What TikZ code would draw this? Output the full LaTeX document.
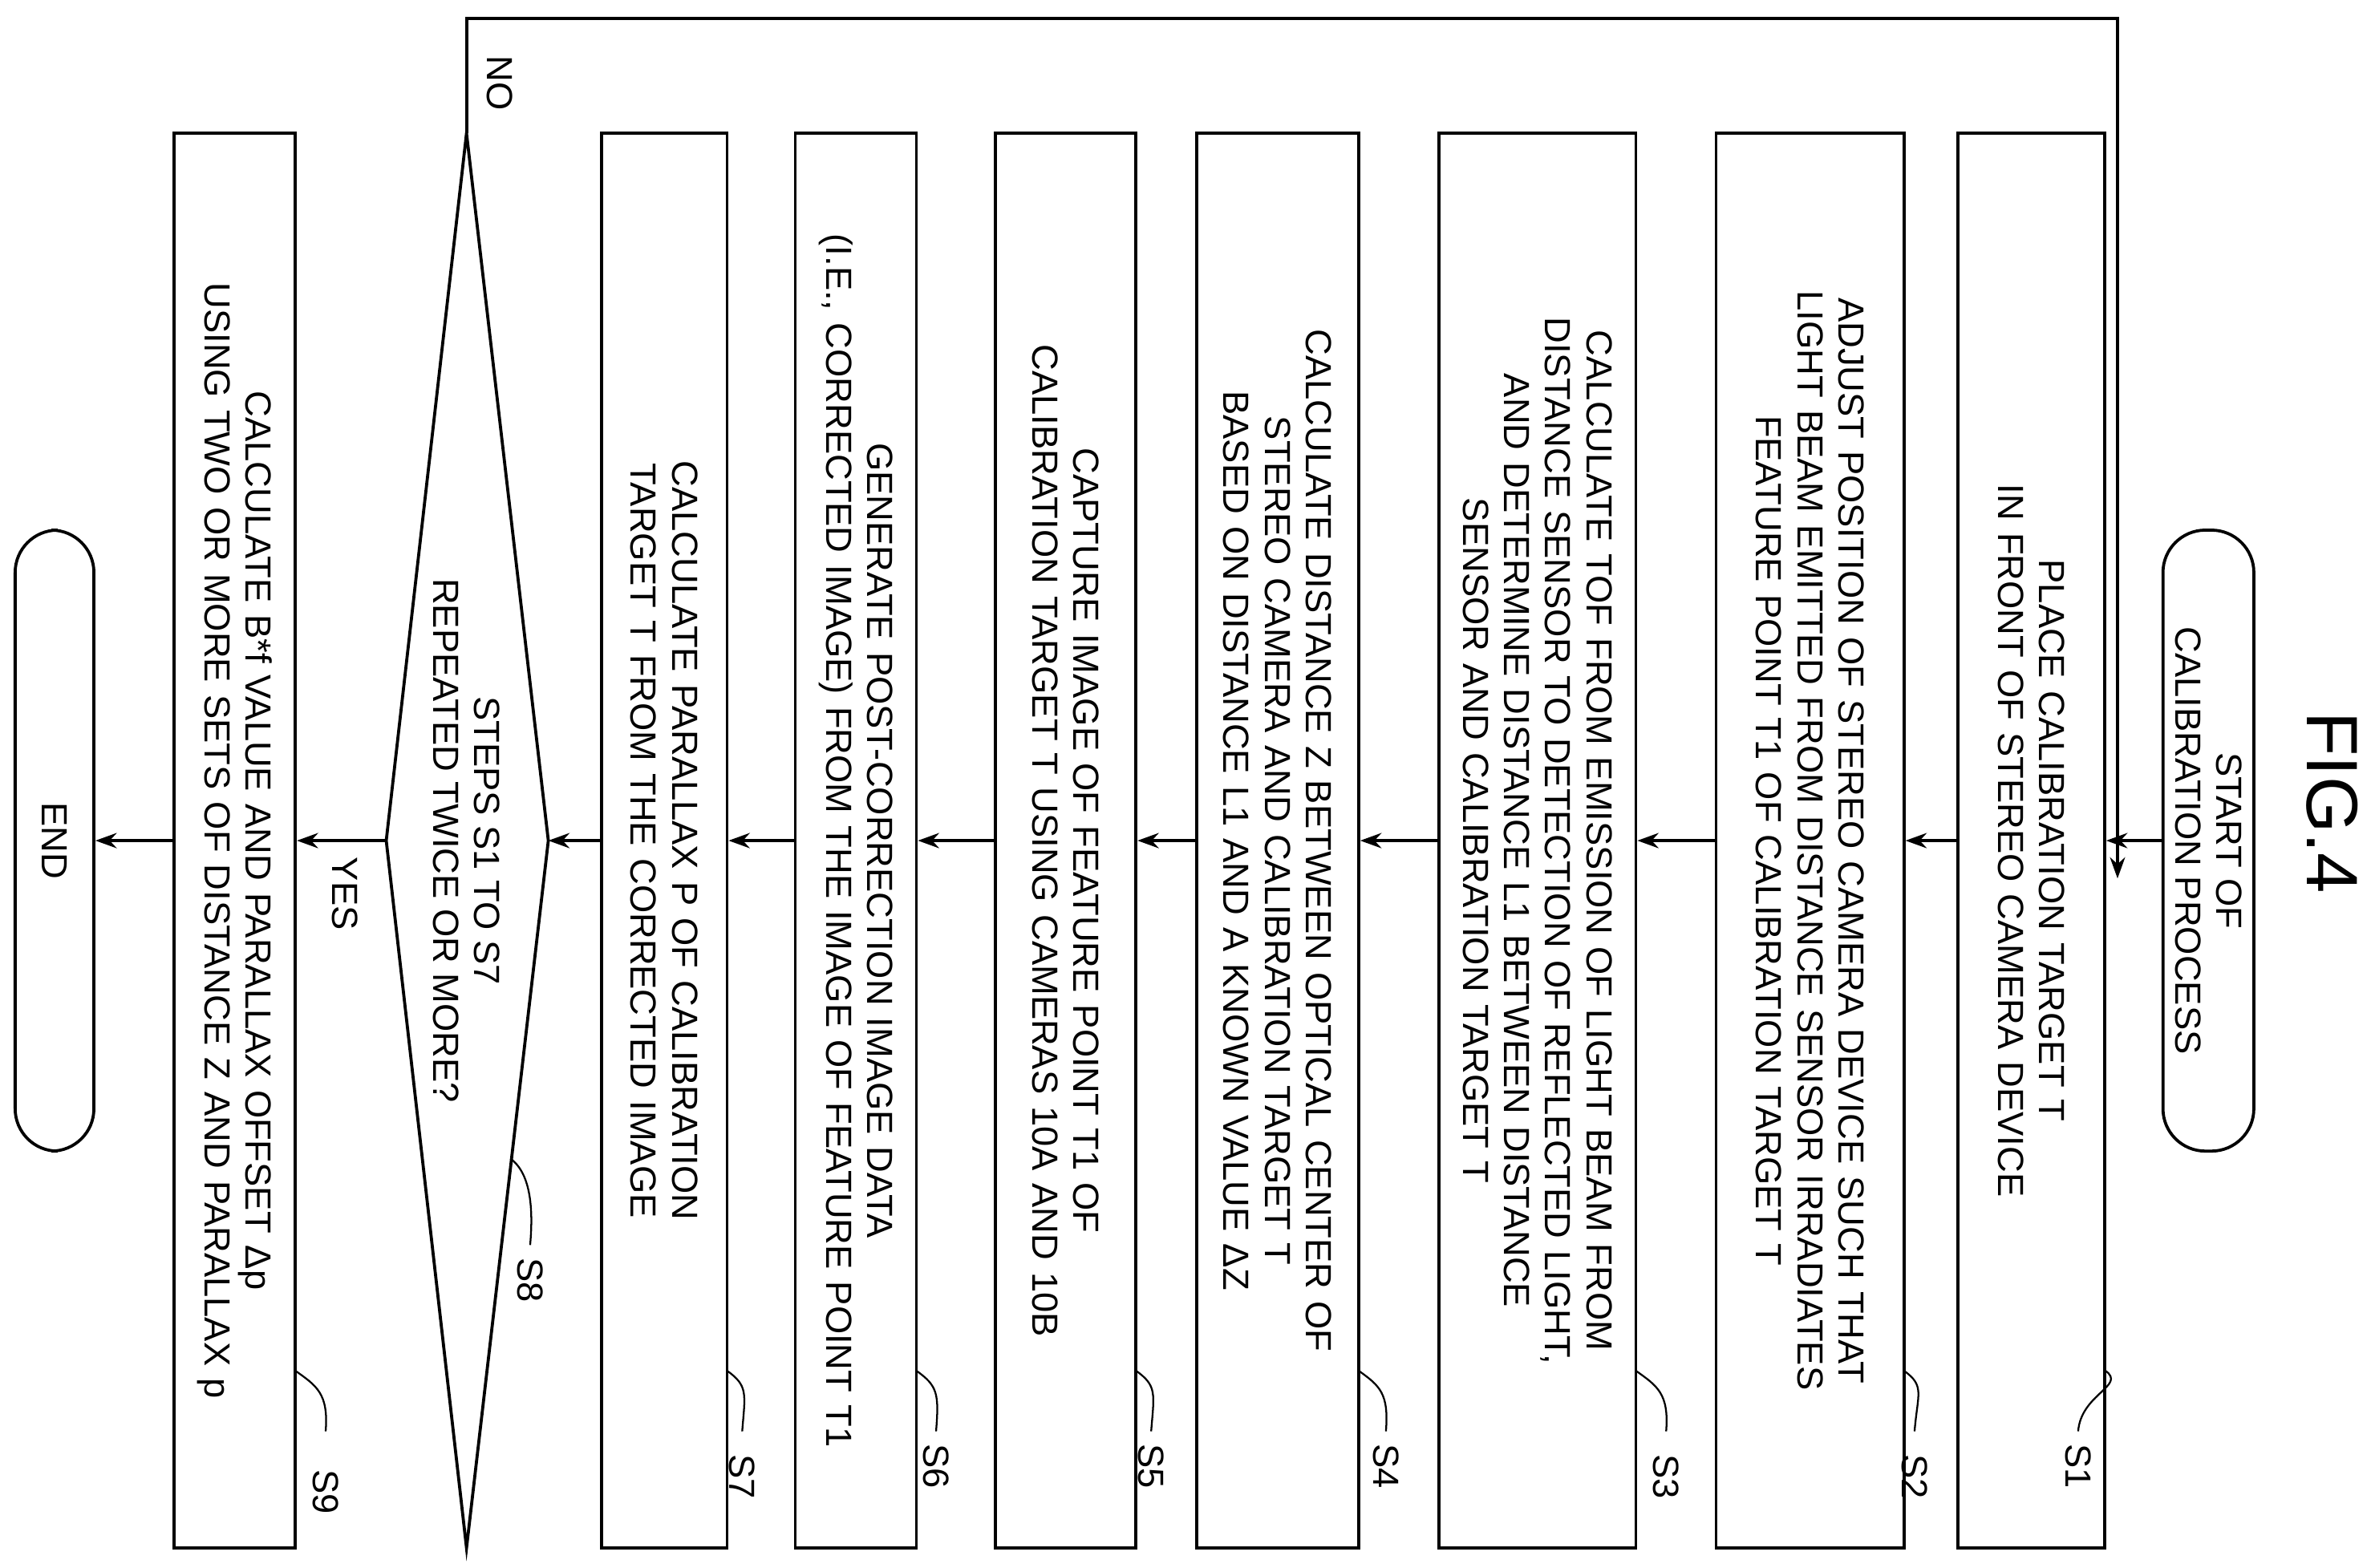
\documentclass[tikz,border=0pt]{standalone}
\usepackage{fontspec}
\setmainfont{Liberation Sans}
\usetikzlibrary{arrows.meta}
\begin{document}
\begin{tikzpicture}
[x=0.5pt, y=-0.5pt,
 every node/.style={inner sep=0pt},
 txt/.style={font=\fontsize{12}{13.6}\selectfont},
 proc/.style={txt, draw=black, line width=1pt, rotate=-90, minimum width=467pt, align=center, text width=460pt},
 term/.style={txt, draw=black, line width=1pt, rotate=-90, rounded corners=14pt, align=center, minimum width=205pt},
 lab/.style={txt, rotate=-90},
 flow/.style={line width=1pt, -{Stealth[length=7pt, width=5pt]}},
 lead/.style={line width=0.6pt}]
\useasboundingbox (0,0) rectangle (1568,1035);
\node (fig) [rotate=-90, font=\fontsize{24}{26}\selectfont] at (1540, 530) {FIG.4};
\node (start) [term, minimum height=30pt] at (1458, 555) {START OF\\CALIBRATION PROCESS};
\node (s1) [proc, minimum height=48.5pt] at (1341, 555) {PLACE CALIBRATION TARGET T\\IN FRONT OF STEREO CAMERA DEVICE};
\node (s2) [proc, minimum height=62pt] at (1195, 555) {ADJUST POSITION OF STEREO CAMERA DEVICE SUCH THAT\\LIGHT BEAM EMITTED FROM DISTANCE SENSOR IRRADIATES\\FEATURE POINT T1 OF CALIBRATION TARGET T};
\node (s3) [proc, minimum height=65pt] at (1015, 555) {CALCULATE TOF FROM EMISSION OF LIGHT BEAM FROM\\DISTANCE SENSOR TO DETECTION OF REFLECTED LIGHT,\\AND DETERMINE DISTANCE L1 BETWEEN DISTANCE\\SENSOR AND CALIBRATION TARGET T};
\node (s4) [proc, minimum height=53.5pt] at (843.5, 555) {CALCULATE DISTANCE Z BETWEEN OPTICAL CENTER OF\\STEREO CAMERA AND CALIBRATION TARGET T\\BASED ON DISTANCE L1 AND A KNOWN VALUE  ΔZ};
\node (s5) [proc, minimum height=46.5pt] at (703.5, 555) {CAPTURE IMAGE OF FEATURE POINT T1 OF\\CALIBRATION TARGET T USING CAMERAS 10A AND 10B};
\node (s6) [proc, minimum height=40pt] at (565, 555) {GENERATE POST-CORRECTION IMAGE DATA\\(I.E., CORRECTED IMAGE) FROM THE IMAGE OF FEATURE POINT T1};
\node (s7) [proc, minimum height=41.5pt] at (438.5, 555) {CALCULATE PARALLAX P OF CALIBRATION\\TARGET T FROM THE CORRECTED IMAGE};
% decision S8
\coordinate (s8t) at (308, 88);
\coordinate (s8b) at (308, 1022);
\coordinate (s8l) at (255, 555);
\coordinate (s8r) at (362, 555);
\draw [line width=1pt] (s8t) -- (s8r) -- (s8b) -- (s8l) -- cycle;
\node (s8) [lab, align=center] at (308, 555) {STEPS S1 TO S7\\REPEATED TWICE OR MORE?};
\node (s9) [proc, minimum height=40pt] at (155, 555) {CALCULATE B*f VALUE AND PARALLAX OFFSET  Δp\\USING TWO OR MORE SETS OF DISTANCE Z AND PARALLAX p};
\node (end) [term, minimum height=26pt] at (36, 555) {END};
\draw [flow] (start) -- (s1);
\draw [flow] (s1) -- (s2);
\draw [flow] (s2) -- (s3);
\draw [flow] (s3) -- (s4);
\draw [flow] (s4) -- (s5);
\draw [flow] (s5) -- (s6);
\draw [flow] (s6) -- (s7);
\draw [flow] (s7) -- (s8r);
\draw [flow] (s8l) -- (s9);
\draw [flow] (s9) -- (end);
\coordinate (loop) at (1398, 580);
\draw [flow] (s8t) -- (308, 12) -- (1398, 12) -- (loop);
\node (no) [lab] at (330, 55) {NO};
\node (yes) [lab] at (228, 590) {YES};
% step labels
\foreach \n/\ex/\lx/\ly in {1/1390/1372/968, 2/1257/1264/975, 3/1080/1100/975, 4/897/915/968, 5/750/760/968, 6/605/618/968, 7/480/490/975, 9/195/215/985} {
  \node (l\n) [lab] at (\lx, \ly) {S\n};
  \draw [lead] (\ex, 905) .. controls (\ex+14, 915) and (\lx+2, 920) .. (\lx, 945);
}
\node (l8) [lab] at (350, 845) {S8};
\draw [lead] (337, 765) .. controls (351, 775) and (352, 800) .. (350, 822);
\end{tikzpicture}
\end{document}
